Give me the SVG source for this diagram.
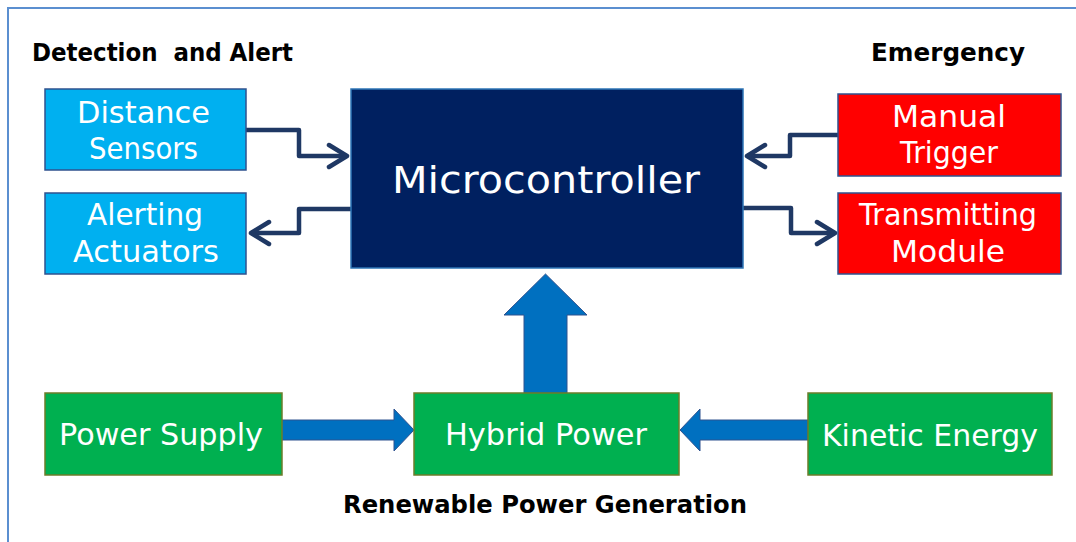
<svg xmlns="http://www.w3.org/2000/svg" width="1076" height="542" viewBox="0 0 1076 542">
<style>
  .box-blue { fill:#00b0f0; stroke:#2f528f; stroke-width:1.5; }
  .box-red { fill:#ff0000; stroke:#2f528f; stroke-width:1.5; }
  .box-green { fill:#00b050; stroke:#6b7d2a; stroke-width:1.5; }
  .box-mc { fill:#002060; stroke:#2e75b6; stroke-width:1.5; }
  .lbl { font-family:"DejaVu Sans","Liberation Sans",sans-serif; fill:#ffffff; font-size:30px; }
  .mc { font-size:38px; }
  .head { font-family:"DejaVu Sans","Liberation Sans",sans-serif; font-weight:bold; fill:#000000; font-size:24px; white-space:pre; }
  .conn { fill:none; stroke:#1f3864; stroke-width:4.5; stroke-linejoin:round; }
  .fat { fill:#0070c0; stroke:#2f528f; stroke-width:1; }
  .frame { fill:none; stroke:#5b8fd0; stroke-width:2; }
</style>
<defs>
  <marker id="chev" markerUnits="userSpaceOnUse" viewBox="0 0 24 28" markerWidth="24" markerHeight="28" refX="21" refY="14" orient="auto">
    <path d="M3,3 L21,14 L3,25" fill="none" stroke="#1f3864" stroke-width="4.5" stroke-linecap="round" stroke-linejoin="round"/>
  </marker>
</defs>
<rect width="1076" height="542" fill="#ffffff"/>
<path class="frame" d="M8,542 V8 H1076"/>

<text class="head" x="32" y="61" textLength="261" lengthAdjust="spacingAndGlyphs">Detection  and Alert</text>
<text class="head" x="871" y="61" textLength="154" lengthAdjust="spacingAndGlyphs">Emergency</text>
<text class="head" x="343" y="513" textLength="404" lengthAdjust="spacingAndGlyphs">Renewable Power Generation</text>

<g id="connectors">
  <path class="conn" d="M246,130 H299 V156 H347" marker-end="url(#chev)"/>
  <path class="conn" d="M351,209 H299 V233 H251" marker-end="url(#chev)"/>
  <path class="conn" d="M838,135 H790 V156 H747" marker-end="url(#chev)"/>
  <path class="conn" d="M743,208 H791 V233 H835" marker-end="url(#chev)"/>
  <polygon class="fat" points="524,393 524,315 504,315 545.5,274 587,315 567,315 567,393"/>
  <polygon class="fat" points="281,420 394,420 394,409 414,430 394,451 394,440 281,440"/>
  <polygon class="fat" points="808,420 700,420 700,409 680,430 700,451 700,440 808,440"/>
</g>

<g id="distance-sensors">
  <rect class="box-blue" x="45" y="89" width="201" height="81"/>
  <text class="lbl" x="77" y="123" textLength="133" lengthAdjust="spacingAndGlyphs">Distance</text>
  <text class="lbl" x="89" y="159" textLength="109" lengthAdjust="spacingAndGlyphs">Sensors</text>
</g>
<g id="alerting-actuators">
  <rect class="box-blue" x="45" y="193" width="201" height="81"/>
  <text class="lbl" x="87" y="225" textLength="116" lengthAdjust="spacingAndGlyphs">Alerting</text>
  <text class="lbl" x="73" y="262" textLength="146" lengthAdjust="spacingAndGlyphs">Actuators</text>
</g>
<g id="microcontroller">
  <rect class="box-mc" x="351" y="89" width="392" height="179"/>
  <text class="lbl mc" x="392" y="193" textLength="308" lengthAdjust="spacingAndGlyphs">Microcontroller</text>
</g>
<g id="manual-trigger">
  <rect class="box-red" x="838" y="94" width="223" height="82"/>
  <text class="lbl" x="892" y="127" textLength="114" lengthAdjust="spacingAndGlyphs">Manual</text>
  <text class="lbl" x="900" y="163" textLength="98" lengthAdjust="spacingAndGlyphs">Trigger</text>
</g>
<g id="transmitting-module">
  <rect class="box-red" x="838" y="193" width="223" height="81"/>
  <text class="lbl" x="859" y="225" textLength="178" lengthAdjust="spacingAndGlyphs">Transmitting</text>
  <text class="lbl" x="891" y="262" textLength="114" lengthAdjust="spacingAndGlyphs">Module</text>
</g>
<g id="power-supply">
  <rect class="box-green" x="45" y="393" width="237" height="82"/>
  <text class="lbl" x="59" y="445" textLength="204" lengthAdjust="spacingAndGlyphs">Power Supply</text>
</g>
<g id="hybrid-power">
  <rect class="box-green" x="414" y="393" width="265" height="82"/>
  <text class="lbl" x="445" y="445" textLength="202" lengthAdjust="spacingAndGlyphs">Hybrid Power</text>
</g>
<g id="kinetic-energy">
  <rect class="box-green" x="808" y="393" width="244" height="82"/>
  <text class="lbl" x="822" y="446" textLength="216" lengthAdjust="spacingAndGlyphs">Kinetic Energy</text>
</g>
</svg>
